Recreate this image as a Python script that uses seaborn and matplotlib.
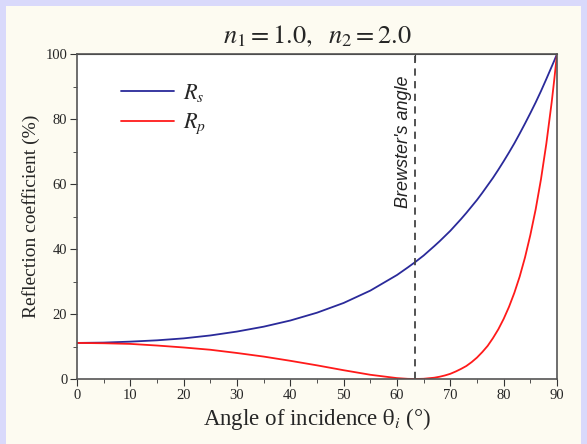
import numpy as np
import pandas as pd
import matplotlib.pyplot as plt
import matplotlib.patches as mpatches
import seaborn as sns
from matplotlib.ticker import MultipleLocator

# ==========================================
# Data
# ==========================================

angle = [0, 5, 10, 15, 20, 25, 30, 35, 40, 45, 50, 55, 60, 62, 63.43,
         65, 67, 68, 69, 70, 71, 72, 73, 74, 75, 76, 77, 78, 79, 80,
         81, 82, 83, 84, 85, 86, 87, 88, 89, 89.5, 90]
r_s = [11.1, 11.2, 11.5, 11.9, 12.5, 13.4, 14.6, 16.1, 18.0, 20.4, 23.4,
       27.2, 32.0, 34.3, 36.0, 38.0, 40.9, 42.4, 44.0, 45.6, 47.4, 49.2,
       51.1, 53.1, 55.1, 57.3, 59.6, 61.9, 64.4, 67.0, 69.7, 72.5, 75.5,
       78.6, 81.8, 85.1, 88.6, 92.3, 96.1, 98.0, 100.0]
r_p = [11.1, 11.0, 10.8, 10.3, 9.7, 9.0, 8.0, 6.9, 5.6, 4.2, 2.7, 1.3,
       0.27, 0.05, 0.0, 0.07, 0.4, 0.7, 1.1, 1.6, 2.3, 3.1, 4.0, 5.2, 6.6,
       8.3, 10.2, 12.6, 15.3, 18.5, 22.2, 26.5, 31.5, 37.4, 44.3, 52.2,
       61.5, 72.4, 85.1, 92.3, 100.0]
brewster = 63.43

df = pd.DataFrame({"angle": angle + angle,
                   "R": r_s + r_p,
                   "pol": ["$R_s$"] * len(angle) + ["$R_p$"] * len(angle)})

# ==========================================
# Plot
# ==========================================

sns.set_style("ticks")
plt.rcParams["font.family"] = ["Liberation Serif", "DejaVu Serif"]
plt.rcParams["mathtext.fontset"] = "stix"

fig = plt.figure(figsize=(5.87, 4.44), dpi=100, facecolor="#d9d9fb")
fig.patches.append(mpatches.Rectangle((6 / 587, 0), 1 - 12 / 587, 1 - 6 / 444,
                                      transform=fig.transFigure,
                                      facecolor="#fdfbf1", edgecolor="none",
                                      zorder=-1))
ax = fig.add_axes([77 / 587, 1 - 379 / 444, 480 / 587, 325 / 444])
ax.set_facecolor("white")

sns.lineplot(data=df, x="angle", y="R", hue="pol",
             palette=["#2a2a9a", "#ff1a1a"], linewidth=1.3, ax=ax)

ax.axvline(brewster, color="#444444", linestyle=(0, (4, 3)), linewidth=1.3)
ax.text(brewster - 2.2, 93.5, "Brewster's angle", rotation=90, ha="center",
        va="top", style="italic", fontsize=13, family="Liberation Sans",
        color="#222222")

ax.set_xlim(0, 90)
ax.set_ylim(0, 100)
ax.xaxis.set_major_locator(MultipleLocator(10))
ax.xaxis.set_minor_locator(MultipleLocator(5))
ax.yaxis.set_major_locator(MultipleLocator(20))
ax.yaxis.set_minor_locator(MultipleLocator(10))
ax.tick_params(which="both", direction="out", labelsize=10.5, color="#333333")
ax.tick_params(which="major", length=5, pad=2)
ax.tick_params(which="minor", length=3)
for s in ax.spines.values():
    s.set_color("#555555")
    s.set_linewidth(1.2)

# Brewster tick on the top axis
top = ax.secondary_xaxis("top")
top.set_xticks([brewster])
top.tick_params(direction="in", length=5, labeltop=False, color="#333333")

ax.set_xlabel(r"Angle of incidence $\mathrm{\theta}_i$ (°)", fontsize=16.5,
              labelpad=3)
ax.set_ylabel("Reflection coefficient (%)", fontsize=14, labelpad=4)
ax.set_title(r"$n_1 = 1.0,\ \ n_2 = 2.0$", fontsize=19, pad=8)

leg = ax.legend(loc="upper left", bbox_to_anchor=(0.05, 0.975), frameon=False,
                fontsize=16, handlelength=2.4, handletextpad=0.4,
                labelspacing=0.35)

plt.savefig("out.png", dpi=100, facecolor=fig.get_facecolor())
